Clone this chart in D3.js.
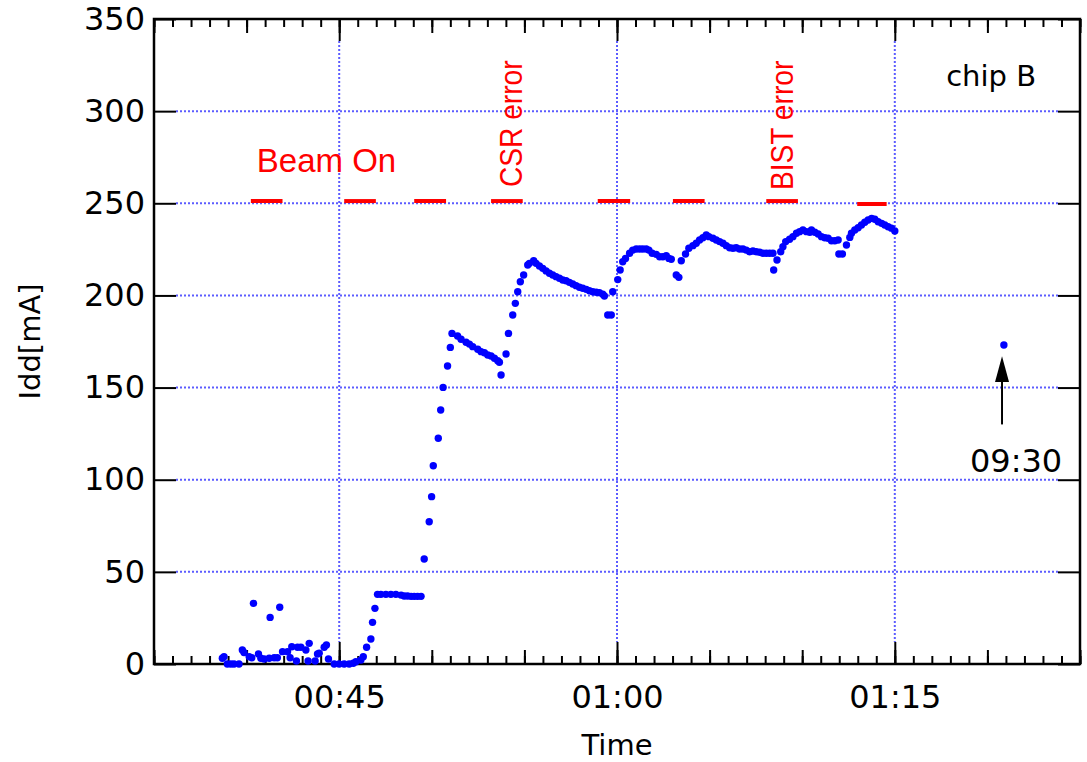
<!DOCTYPE html>
<html>
<head>
<meta charset="utf-8">
<script src="https://cdn.jsdelivr.net/npm/d3@7"></script>
<style>
  body { margin: 0; background: #fff; }
  svg { display: block; }
  .tick text { font-family: "DejaVu Sans", sans-serif; }
</style>
</head>
<body>
<svg id="chart" width="1087" height="762"></svg>
<script>
// time in minutes after 00:00, Idd in mA (chip B)
const timeMin = [
  38.69,38.78,38.96,39.15,39.32,39.59,39.77,39.86,40.14,40.28,
  40.37,40.64,40.77,40.95,41.22,41.27,41.49,41.66,41.79,41.94,
  42.21,42.35,42.44,42.69,42.75,42.93,43.20,43.32,43.38,43.70,
  43.83,43.92,44.19,44.31,44.42,44.73,45.00,45.27,45.54,45.76,
  45.90,46.17,46.30,46.48,46.71,46.80,46.93,47.07,47.25,47.52,
  47.79,48.06,48.34,48.51,48.69,48.88,49.05,49.23,49.42,
  49.59,49.86,49.99,50.08,50.35,50.48,50.61,50.85,51.00,51.09,
  51.39,51.58,51.85,52.03,52.21,52.48,52.66,52.84,53.02,53.20,
  53.38,53.56,53.65,53.74,54.01,54.14,54.37,54.51,54.64,54.78,
  54.96,55.18,55.27,55.50,55.63,55.81,55.99,56.17,56.35,56.53,
  56.71,56.89,57.07,57.25,57.43,57.61,57.79,57.97,58.15,58.34,
  58.51,58.69,58.88,59.05,59.23,59.32,59.50,59.69,59.77,60.04,
  60.17,60.31,60.46,60.68,60.85,61.04,61.22,61.39,61.58,61.72,
  61.90,62.12,62.30,62.48,62.66,62.80,62.93,63.20,63.34,63.47,
  63.70,63.88,64.10,64.28,64.46,64.64,64.82,64.96,65.18,65.36,
  65.54,65.72,65.90,66.08,66.26,66.44,66.62,66.80,66.98,67.16,
  67.34,67.52,67.70,67.88,68.06,68.24,68.42,68.46,68.64,68.84,
  68.96,69.11,69.32,69.50,69.69,69.86,70.04,70.23,70.41,70.50,
  70.68,70.86,71.04,71.22,71.40,71.58,71.76,71.94,71.98,72.17,
  72.39,72.57,72.66,72.84,73.02,73.20,73.38,73.56,73.75,73.92,
  74.10,74.29,74.46,74.64,74.82,75.00,
  80.89
];
const iddMA = [
  3.1,4.0,0,0,0,0,7.6,6.2,4.0,3.4,
  32.9,5.4,3.1,2.7,3.1,25.3,3.4,3.4,30.8,6.7,
  6.7,3.4,9.4,1.6,9.1,9.1,7.6,1.6,11.2,1.6,
  5.4,5.8,9.1,10.3,2.7,0,0,0,0,0.4,
  1.2,2.2,4.0,9.1,13.6,22.6,30.2,37.8,37.8,37.8,
  37.8,37.8,37.4,36.9,36.9,36.7,36.7,36.7,36.7,
  57.0,77.2,90.8,107.6,122.5,137.8,150.1,161.7,171.8,179.4,
  178.0,176.2,174.6,173.6,172.2,170.8,169.5,168.9,167.7,167.1,
  165.9,164.6,163.7,156.8,168.2,179.4,189.4,195.7,202.0,207.4,
  211.1,216.5,217.4,218.8,217.4,216.0,214.7,213.3,212.0,211.1,
  210.2,209.3,208.4,208.0,207.1,206.2,205.3,204.4,203.9,203.3,
  202.6,202.0,201.7,201.5,200.6,199.7,189.4,189.4,202.0,208.6,
  213.8,218.3,220.1,222.9,224.6,225.2,225.2,225.2,225.2,224.6,
  222.9,222.3,221.0,221.0,221.6,220.1,219.6,211.1,209.8,218.8,
  222.5,225.6,227.0,228.3,230.1,231.3,232.8,231.9,231.0,230.1,
  229.2,228.3,227.0,225.9,225.6,225.9,225.2,225.2,224.6,223.7,
  224.1,223.7,223.4,222.9,222.9,222.9,222.9,213.8,219.2,223.7,
  226.4,229.2,230.5,231.9,233.7,234.6,235.5,234.6,234.3,235.5,
  234.3,233.3,231.9,231.3,231.0,229.7,229.7,230.1,222.5,222.5,
  227.4,231.5,233.7,235.5,236.7,238.2,239.7,240.9,241.8,241.3,
  240.0,239.1,238.2,237.3,236.5,235.0,
  173.1
];

// beam-on intervals (red bars)
const beamStart = [40.23, 45.27, 49.05, 53.20, 58.96, 63.02, 68.06, 72.97];
const beamEnd   = [41.94, 46.98, 50.77, 54.91, 60.71, 64.73, 69.77, 74.56];
const beamLevel = [251.2, 251.2, 251.2, 251.2, 251.2, 251.2, 251.2, 249.6];

const yTicks = [0, 50, 100, 150, 200, 250, 300, 350];
const xMajor = [45, 60, 75];
const xLabels = ["00:45", "01:00", "01:15"];

const svg = d3.select("#chart");
const margin = { top: 19, right: 7, bottom: 98, left: 154 };
const width = 1087 - margin.left - margin.right,
      height = 762 - margin.top - margin.bottom;

const x = d3.scaleLinear().domain([35, 85]).range([0, width]);
const y = d3.scaleLinear().domain([0, 350]).range([height, 0]);

const g = svg.append("g").attr("transform", `translate(${margin.left},${margin.top})`);

// dotted grid
const gridCol = "#5c5cff";
g.selectAll(".hgrid").data(yTicks.slice(1, -1)).enter().append("line")
  .attr("x1", 22).attr("x2", width - 22)
  .attr("y1", d => y(d)).attr("y2", d => y(d))
  .attr("stroke", gridCol).attr("stroke-width", 2).attr("stroke-dasharray", "2,2");
g.selectAll(".vgrid").data(xMajor).enter().append("line")
  .attr("x1", d => x(d)).attr("x2", d => x(d))
  .attr("y1", 22).attr("y2", height - 22)
  .attr("stroke", gridCol).attr("stroke-width", 2).attr("stroke-dasharray", "2,2");

// ticks: minor (1 min), medium (5 min), major (15 min)
function xTicks(axisFn, sizes, pos) {
  const sets = [[d3.range(35, 86, 1), sizes[0]], [d3.range(35, 86, 5), sizes[1]], [xMajor, sizes[2]]];
  sets.forEach(([vals, s]) => {
    g.append("g").attr("class", "axis")
      .attr("transform", `translate(0,${pos})`)
      .call(axisFn(x).tickValues(vals).tickSize(-s).tickSizeOuter(0).tickFormat(""))
      .call(a => a.select(".domain").remove())
      .selectAll("line").attr("stroke", "#000").attr("stroke-width", 2);
  });
}
xTicks(d3.axisBottom, [8, 14, 22], height);
xTicks(d3.axisTop, [8, 14, 22], 0);

// x labels
g.append("g")
  .attr("transform", `translate(0,${height})`)
  .call(d3.axisBottom(x).tickValues(xMajor).tickSize(0).tickPadding(21)
    .tickFormat((d, i) => xLabels[i]))
  .call(a => a.select(".domain").remove())
  .selectAll("text").attr("font-size", 32).attr("fill", "#000");

// y axes
g.append("g")
  .call(d3.axisLeft(y).tickValues(yTicks).tickSize(-22).tickSizeOuter(0).tickPadding(9))
  .call(a => a.select(".domain").remove())
  .call(a => a.selectAll("line").attr("stroke", "#000").attr("stroke-width", 2))
  .selectAll("text").attr("font-size", 32).attr("fill", "#000");
g.append("g")
  .attr("transform", `translate(${width},0)`)
  .call(d3.axisRight(y).tickValues(yTicks).tickSize(-22).tickSizeOuter(0).tickFormat(""))
  .call(a => a.select(".domain").remove())
  .selectAll("line").attr("stroke", "#000").attr("stroke-width", 2);

// frame
g.append("rect").attr("width", width).attr("height", height)
  .attr("fill", "none").attr("stroke", "#000").attr("stroke-width", 2.5);

// beam bars
g.selectAll(".beam").data(beamStart).enter().append("line")
  .attr("x1", d => x(d)).attr("x2", (d, i) => x(beamEnd[i]))
  .attr("y1", (d, i) => y(beamLevel[i])).attr("y2", (d, i) => y(beamLevel[i]))
  .attr("stroke", "#ff0000").attr("stroke-width", 4);

// data points
g.selectAll(".pt").data(timeMin).enter().append("circle")
  .attr("cx", d => x(d)).attr("cy", (d, i) => y(iddMA[i]))
  .attr("r", 3.7).attr("fill", "#0000ff");

// annotations
g.append("text").attr("x", x(40.55)).attr("y", y(267))
  .attr("font-family", "Liberation Sans, sans-serif").attr("font-size", 33)
  .attr("fill", "#ff0000").text("Beam On");
[["CSR error", 54.89, 258.8], ["BIST error", 69.49, 257.2]].forEach(([t, m, v]) => {
  g.append("text")
    .attr("transform", `translate(${x(m)},${y(v)}) rotate(-90) scale(0.88,1)`)
    .attr("font-family", "Liberation Sans, sans-serif")
    .attr("font-size", 32).attr("fill", "#ff0000").text(t);
});
g.append("text").attr("x", x(80.2)).attr("y", y(313.6)).attr("text-anchor", "middle")
  .attr("font-family", "DejaVu Sans, sans-serif").attr("font-size", 29).text("chip B");
g.append("text").attr("x", x(81.55)).attr("y", y(104.2)).attr("text-anchor", "middle")
  .attr("font-family", "DejaVu Sans, sans-serif").attr("font-size", 32).text("09:30");

// arrow
g.append("line").attr("x1", x(80.79)).attr("x2", x(80.79))
  .attr("y1", y(130)).attr("y2", y(155))
  .attr("stroke", "#000").attr("stroke-width", 2);
g.append("path")
  .attr("d", `M${x(80.79)},${y(167)} L${x(80.79) - 7},${y(153)} L${x(80.79) + 7},${y(153)} Z`)
  .attr("fill", "#000");

// axis titles
svg.append("text").attr("x", margin.left + x(60)).attr("y", 755).attr("text-anchor", "middle")
  .attr("font-family", "DejaVu Sans, sans-serif").attr("font-size", 29).text("Time");
svg.append("text").attr("transform", `translate(40,${margin.top + y(175)}) rotate(-90)`)
  .attr("text-anchor", "middle")
  .attr("font-family", "DejaVu Sans, sans-serif").attr("font-size", 29).text("Idd[mA]");
</script>
</body>
</html>
